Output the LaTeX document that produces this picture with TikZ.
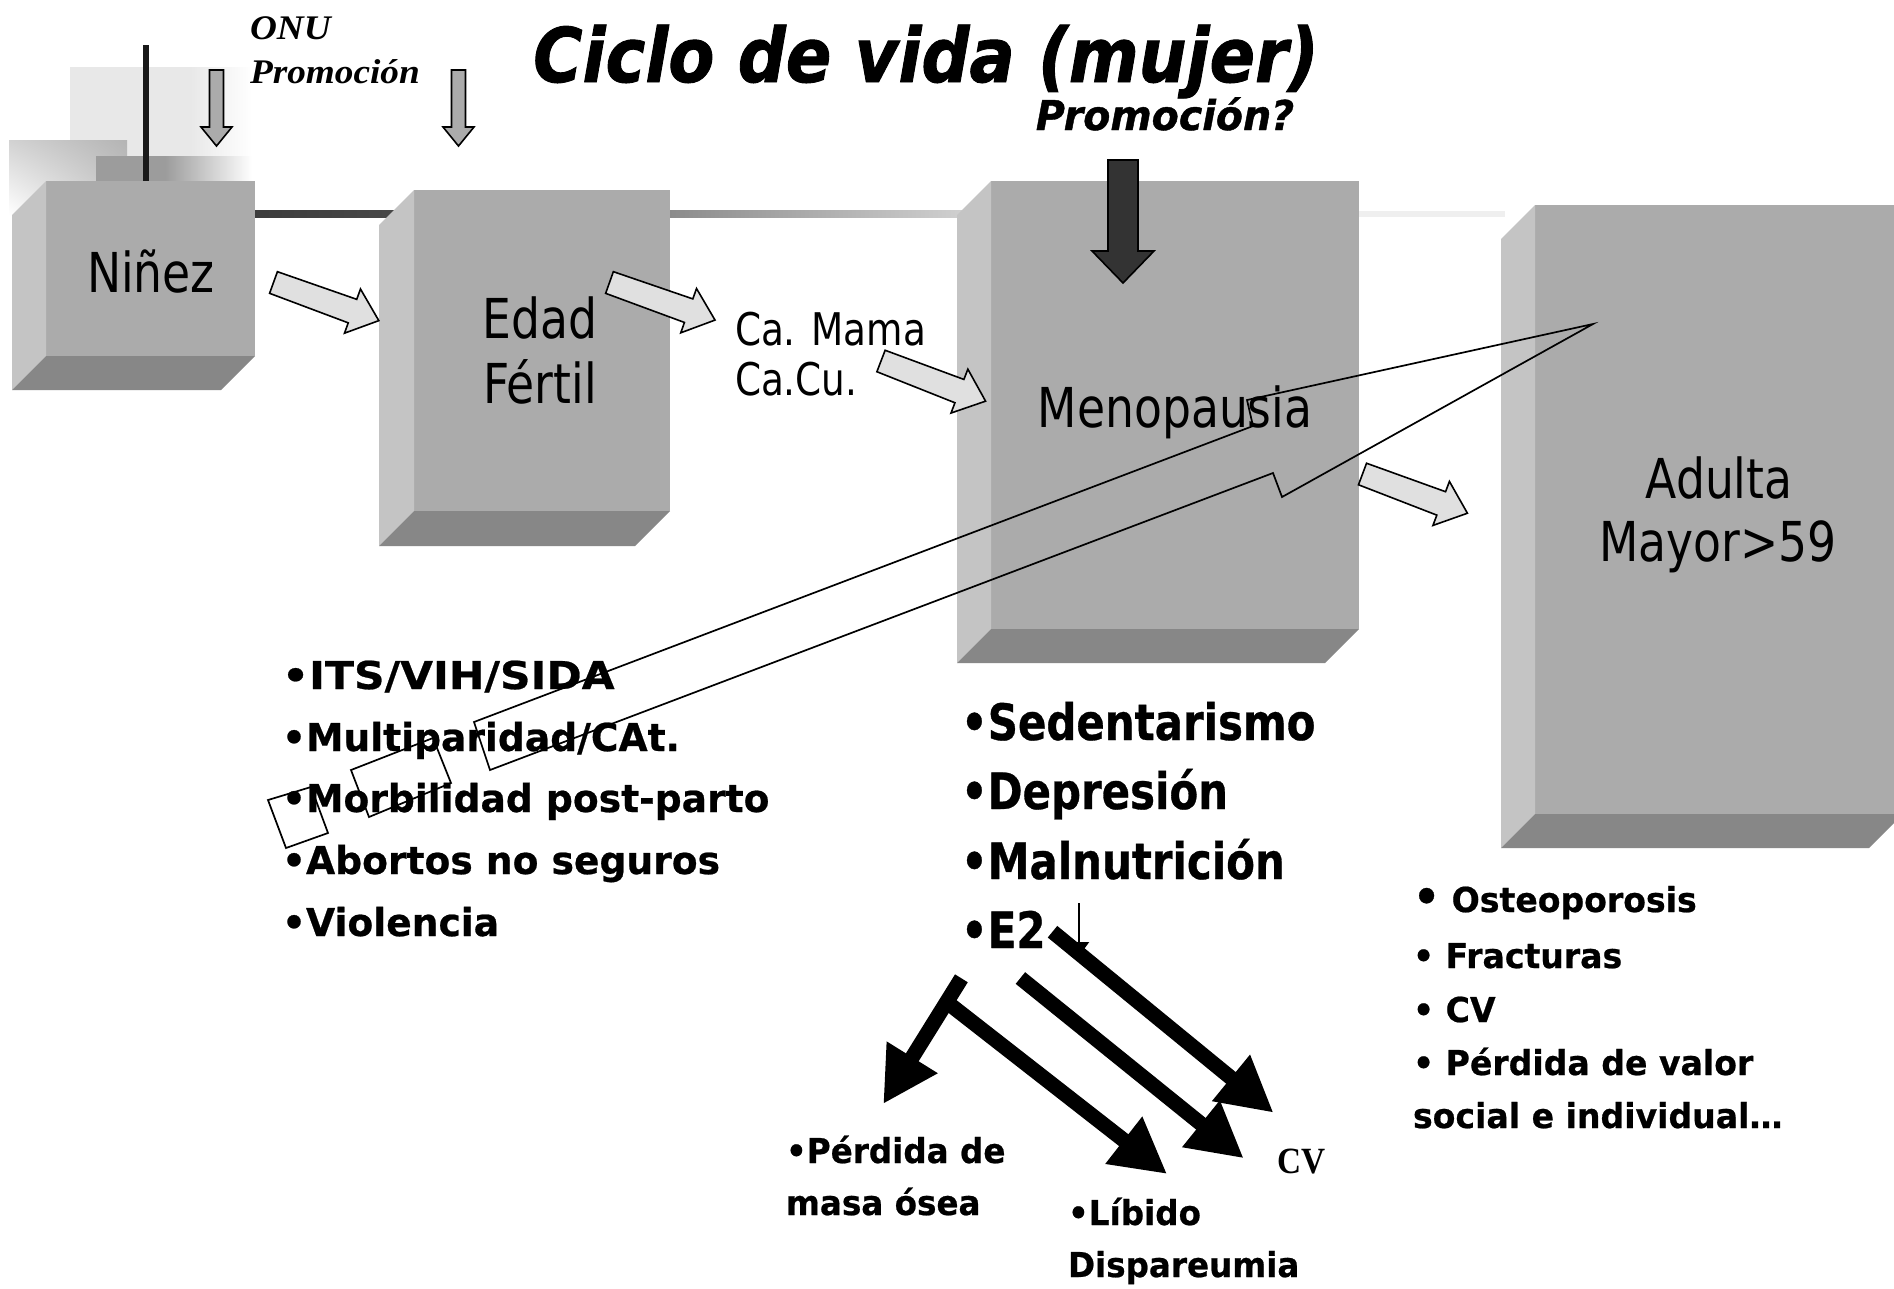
\documentclass[tikz,border=0pt]{standalone}
\usepackage{fontspec}
\usepackage{graphicx}
\setmainfont{DejaVu Sans}
\newfontfamily\boxfont{DejaVu Sans}[FakeStretch=0.83]
\newfontfamily\leftfont{DejaVu Sans}[FakeStretch=0.98,FakeBold=0.6]
\newfontfamily\midfont{DejaVu Sans}[FakeStretch=0.835,FakeBold=0.6]
\newfontfamily\rightfont{DejaVu Sans}[FakeStretch=0.965,FakeBold=0.6]
\newfontfamily\lowfont{DejaVu Sans}[FakeStretch=0.95,FakeBold=0.6]
\newfontfamily\titlefont{DejaVu Sans}[FakeStretch=0.89,FakeBold=1.2]
\newfontfamily\promofont{DejaVu Sans}[FakeStretch=0.965,FakeBold=1]
\newfontfamily\onufont{Liberation Serif}[FakeStretch=1.08]
\newfontfamily\cvfont{Liberation Serif}[FakeStretch=0.9]
\usetikzlibrary{arrows.meta,shadings}
\definecolor{facefront}{HTML}{ABABAB}
\definecolor{faceleft}{HTML}{C4C4C4}
\definecolor{facebottom}{HTML}{878787}
\definecolor{hollowfill}{HTML}{E0E0E0}
\definecolor{downfill}{HTML}{ABABAB}
\definecolor{darkfill}{HTML}{333333}
\definecolor{shadelight}{HTML}{E8E8E8}
\definecolor{shadedark}{HTML}{9C9C9C}
\definecolor{shadehatch}{HTML}{B4B4B4}
\definecolor{lineA}{HTML}{3C3C3C}
\definecolor{lineB}{HTML}{484848}
\definecolor{lineC}{HTML}{8A8A8A}
\definecolor{lineD}{HTML}{D0D0D0}
\definecolor{lineE}{HTML}{EFEFEF}
\tikzset{
  front/.style={fill=facefront, inner sep=0pt, outer sep=0pt, rectangle},
  leftside/.style={fill=faceleft},
  bottomside/.style={fill=facebottom},
  lbl/.style={inner sep=0pt, outer sep=0pt, text=black},
  hollow/.style={fill=hollowfill, draw=black, line width=1.6pt, line join=miter},
  downarr/.style={fill=downfill, draw=black, line width=1.6pt, line join=miter},
  darkarr/.style={fill=darkfill, draw=black, line width=1.6pt, line join=miter},
  bigarrow/.style={line width=15pt, -{Triangle[length=55pt,width=56pt]}},
  thinarrow/.style={line width=2pt, -{Triangle[length=14pt,width=20pt]}},
  bolt/.style={draw=black, line width=1.7pt, line join=miter},
}
\newcommand\sidefaces[2]{%
  \fill[leftside] (#1.north west) -- ++(-#2,#2) -- ([shift={(-#2,#2)}]#1.south west) -- (#1.south west) -- cycle;
  \fill[bottomside] (#1.south west) -- (#1.south east) -- ([shift={(-#2,#2)}]#1.south east) -- ([shift={(-#2,#2)}]#1.south west) -- cycle;
}
\newcommand\hollowarrow[2]{%
  \begin{scope}[shift={(#1)}, rotate=#2]
    \draw[hollow] (0,-11.5) -- (84,-12.5) -- (84,-23.5) -- (112,0) -- (84,23.5) -- (84,12.5) -- (0,11.5) -- cycle;
  \end{scope}}
\begin{document}
\begin{tikzpicture}[x=1pt,y=-1pt]
\useasboundingbox (0,0) rectangle (1894,1288);
\clip (0,0) rectangle (1894,1288);
\fill[white] (0,0) rectangle (1894,1288);

% background shadows near Ninez
\fill[shadelight] (70,67) rectangle (190,181);
\shade[left color=shadelight, right color=white] (190,67) rectangle (252,181);
\shade[upper left=shadehatch!60, upper right=shadehatch, lower left=white, lower right=shadehatch!70] (9,140) rectangle (127,215);
\fill[shadedark] (96,156) rectangle (165,181);
\shade[left color=shadedark, right color=white] (165,156) rectangle (252,181);

% time line
\shade[left color=lineA, right color=lineB] (250,210) rectangle (400,217);
\shade[left color=lineC, right color=lineD] (665,210) rectangle (965,217);
\fill[lineE] (1355,211) rectangle (1505,217);
\fill[black!90] (143,45) rectangle (149,182);

% boxes
\node[front, minimum width=209pt, minimum height=175pt] (ninez) at (150.5,268.5) {};
\sidefaces{ninez}{34}
\node[front, minimum width=256pt, minimum height=321pt] (edad) at (542,350.5) {};
\sidefaces{edad}{35}
\node[front, minimum width=368pt, minimum height=448pt] (meno) at (1175,405) {};
\sidefaces{meno}{34}
\node[front, minimum width=368pt, minimum height=609pt] (adulta) at (1719,509.5) {};
\sidefaces{adulta}{34}

% box labels
\node[lbl, anchor=base] (tninez) at (151,292) {\boxfont\fontsize{55}{60}\selectfont Niñez};
\node[lbl, anchor=base] (tedad) at (540,338) {\boxfont\fontsize{55}{60}\selectfont Edad};
\node[lbl, anchor=base] (tfertil) at (540,403) {\boxfont\fontsize{55}{60}\selectfont Fértil};
\node[lbl, anchor=base] (tmeno) at (1175,427) {\boxfont\fontsize{55}{60}\selectfont Menopausia};
\node[lbl, anchor=base] (tadulta) at (1719,498) {\boxfont\fontsize{55}{60}\selectfont Adulta};
\node[lbl, anchor=base] (tmayor) at (1718,561) {\boxfont\fontsize{55}{60}\selectfont Mayor>59};
\node[lbl, anchor=base west] (camama) at (735,345) {\boxfont\fontsize{45}{50}\selectfont Ca. Mama};
\node[lbl, anchor=base west] (cacu) at (735,395) {\boxfont\fontsize{45}{50}\selectfont Ca.Cu.};

% titles
\node[lbl, anchor=base] (title) at (926,82) {\titlefont\bfseries\itshape\fontsize{75.4}{80}\selectfont Ciclo de vida (mujer)};
\node[lbl, anchor=base] (promo) at (1165,130) {\promofont\bfseries\itshape\fontsize{41}{45}\selectfont Promoción?};
\node[lbl, anchor=base west] (onu) at (250,39) {\onufont\bfseries\itshape\fontsize{34.5}{38}\selectfont ONU};
\node[lbl, anchor=base west] (onupromo) at (250,83) {\onufont\bfseries\itshape\fontsize{34.5}{38}\selectfont Promoción};

% down arrows
\draw[downarr] (209.5,70) -- (223.5,70) -- (223.5,127) -- (232,127) -- (216.5,146) -- (201,127) -- (209.5,127) -- cycle;
\draw[downarr] (451.5,70) -- (465.5,70) -- (465.5,127) -- (474,127) -- (458.5,146) -- (443,127) -- (451.5,127) -- cycle;
\draw[darkarr] (1108,160) -- (1138,160) -- (1138,251) -- (1154,251) -- (1123,283) -- (1092,251) -- (1108,251) -- cycle;

% hollow block arrows
\coordinate (ha1) at (273.5,282.5);
\coordinate (ha2) at (609.5,282.5);
\coordinate (ha3) at (881,361);
\coordinate (ha4) at (1362.5,474);
\hollowarrow{ha1}{-19.9}
\hollowarrow{ha2}{-19.6}
\hollowarrow{ha3}{-21}
\hollowarrow{ha4}{-20.5}

% left list
\begin{scope}[every node/.style={lbl, anchor=base west}]
\node (l1) at (282,689) {\leftfont\bfseries\fontsize{38.4}{42}\selectfont \scalebox{1.13}[1]{•ITS/VIH/SIDA}};
\node (l2) at (282,751) {\leftfont\bfseries\fontsize{38.4}{42}\selectfont •Multiparidad/CAt.};
\node (l3) at (282,812) {\leftfont\bfseries\fontsize{38.4}{42}\selectfont •Morbilidad post-parto};
\node (l4) at (282,874) {\leftfont\bfseries\fontsize{38.4}{42}\selectfont •Abortos no seguros};
\node (l5) at (282,936) {\leftfont\bfseries\fontsize{38.4}{42}\selectfont •Violencia};
% middle list
\node (m1) at (961,740) {\midfont\bfseries\fontsize{50.2}{55}\selectfont •Sedentarismo};
\node (m2) at (961,809) {\midfont\bfseries\fontsize{50.2}{55}\selectfont •Depresión};
\node (m3) at (961,879) {\midfont\bfseries\fontsize{50.2}{55}\selectfont •Malnutrición};
\node (m4) at (961,948) {\midfont\bfseries\fontsize{50.2}{55}\selectfont •E2};
% right list
\node (r1) at (1413,912) {\rightfont\bfseries\fontsize{34.3}{38}\selectfont {\fontsize{44}{44}\selectfont •} Osteoporosis};
\node (r2) at (1413,968) {\rightfont\bfseries\fontsize{34.3}{38}\selectfont • Fracturas};
\node (r3) at (1413,1022) {\rightfont\bfseries\fontsize{34.3}{38}\selectfont • CV};
\node (r4) at (1413,1075) {\rightfont\bfseries\fontsize{34.3}{38}\selectfont • Pérdida de valor};
\node (r5) at (1413,1128) {\rightfont\bfseries\fontsize{34.3}{38}\selectfont social e individual…};
% bottom
\node (b1) at (786,1163) {\lowfont\bfseries\fontsize{34.3}{38}\selectfont •Pérdida de};
\node (b2) at (786,1215) {\lowfont\bfseries\fontsize{34.3}{38}\selectfont masa ósea};
\node (b3) at (1068,1225) {\lowfont\bfseries\fontsize{34.3}{38}\selectfont •Líbido};
\node (b4) at (1068,1277) {\lowfont\bfseries\fontsize{34.3}{38}\selectfont Dispareumia};
\node (cv) at (1277,1173) {\cvfont\bfseries\fontsize{37}{40}\selectfont CV};
\end{scope}

% E2 arrows
\coordinate (e2down) at (1079,903);
\coordinate (e2downend) at (1079,956);
\draw[thinarrow] (e2down) -- (e2downend);
\coordinate (ta1) at (1052.5,931.7);
\coordinate (tb1) at (1273.5,1112.7);
\coordinate (ta2) at (1020.4,978);
\coordinate (tb2) at (1243.7,1158.3);
\coordinate (ta3) at (961.4,978.3);
\coordinate (tb3) at (883.2,1104);
\coordinate (ta4) at (948,1003);
\coordinate (tb4) at (1167.1,1174);
\draw[bigarrow] (ta1) -- (tb1);
\draw[bigarrow] (ta2) -- (tb2);
\draw[bigarrow] (ta3) -- (tb3);
\draw[bigarrow] (ta4) -- (tb4);

% striped long arrow
\draw[bolt] (474,722) -- (1253,426) -- (1247,400) -- (1593,324) -- (1282,497) -- (1273,473) -- (490,770) -- cycle;
\draw[bolt] (351,770) -- (369,817) -- (451,783) -- (433,738) -- cycle;
\draw[bolt] (268,800) -- (286,848) -- (328,833) -- (311,787) -- cycle;
\end{tikzpicture}
\end{document}
